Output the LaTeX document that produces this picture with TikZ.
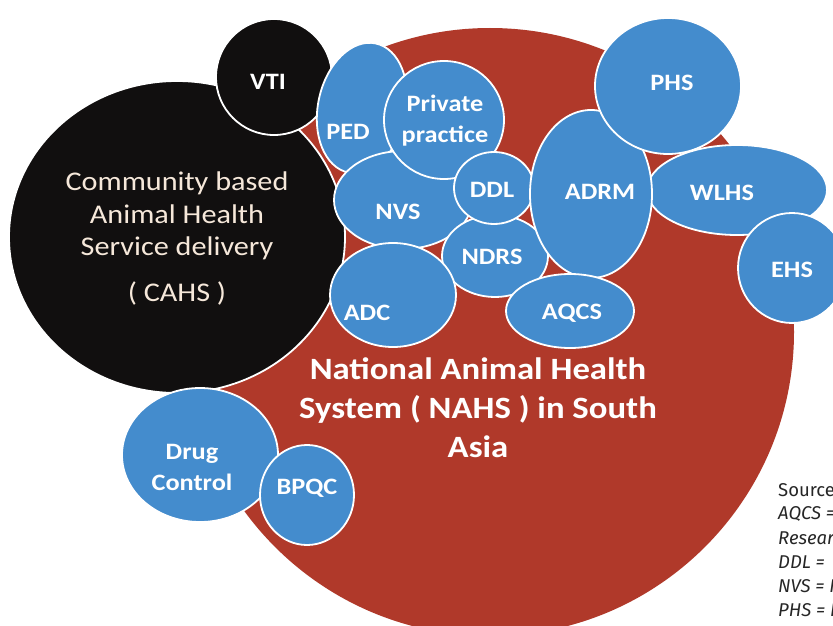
\documentclass[tikz,border=0pt]{standalone}
\usepackage{fontspec}
\setmainfont{Carlito}[FakeStretch=1.12]
\newfontfamily\srcfont{Fira Sans}
\usetikzlibrary{shapes.geometric}
\definecolor{nahsred}{RGB}{176,57,42}
\definecolor{bblue}{RGB}{68,140,205}
\definecolor{cahsblack}{RGB}{17,15,15}
\definecolor{cream}{RGB}{246,232,218}
\begin{document}
\begin{tikzpicture}[x=1pt,y=-1pt,
  bubble/.style={fill=bblue, draw=white, line width=1.8pt},
  darkbub/.style={fill=cahsblack, draw=white, line width=1.8pt},
  lbl/.style={text=white, font=\fontsize{23.5}{31}\selectfont\bfseries, align=center, inner sep=0pt},
  cahstext/.style={text=cream, font=\fontsize{27}{32.5}\selectfont, align=center, inner sep=0pt},
  nahstext/.style={text=white, font=\fontsize{31}{39}\selectfont\bfseries, align=center, inner sep=0pt},
  srctext/.style={text=black!85, font=\srcfont\fontsize{18.5}{21}\selectfont, anchor=west, inner sep=0pt},
  srcital/.style={srctext, font=\srcfont\itshape\fontsize{18.5}{21}\selectfont}]
\useasboundingbox (0,0) rectangle (833,626);
\clip (0,0) rectangle (833,626);
\fill[white] (0,0) rectangle (833,626);
% national system
\fill[nahsred] (490,332) circle [radius=304];
% community based
\path[darkbub] (177,237) ellipse [x radius=168, y radius=156];
\path[darkbub] (274,77) circle [radius=58];
% blue bubbles
\path[bubble, rotate around={-12:(362,108)}] (362,108) ellipse [x radius=44, y radius=66];
\path[bubble] (403,200) ellipse [x radius=69, y radius=49];
\path[bubble] (444,120) ellipse [x radius=60, y radius=59];
\path[bubble] (495,256) ellipse [x radius=53, y radius=41];
\path[bubble] (494,188) ellipse [x radius=40, y radius=36];
\path[bubble] (393,295) ellipse [x radius=63, y radius=52];
\path[bubble] (737,190) ellipse [x radius=90, y radius=45];
\path[bubble] (591,194) ellipse [x radius=61, y radius=84];
\path[bubble] (570,311) ellipse [x radius=64, y radius=37];
\path[bubble] (668,86) ellipse [x radius=73, y radius=68];
\path[bubble] (792,268) ellipse [x radius=54, y radius=55];
\path[bubble] (200,455) ellipse [x radius=78, y radius=67];
\path[bubble] (307,495) ellipse [x radius=47, y radius=50];
% labels
\node[lbl] (vti) at (268,82) {VTI};
\node[cahstext] (cahs) at (177,216) {Community based\\Animal Health\\Service delivery};
\node[cahstext] (cahsabbr) at (177,293) {( CAHS )};
\node[lbl] (ped) at (348,132) {PED};
\node[lbl] (pp) at (445,121) {Private\\practice};
\node[lbl] (ddl) at (492,190) {DDL};
\node[lbl] (nvs) at (398,212) {NVS};
\node[lbl] (ndrs) at (492,257) {NDRS};
\node[lbl] (adc) at (367,313) {ADC};
\node[lbl] (aqcs) at (572,313) {AQCS};
\node[lbl] (adrm) at (600,192) {ADRM};
\node[lbl] (phs) at (672,83) {PHS};
\node[lbl] (wlhs) at (722,193) {WLHS};
\node[lbl] (ehs) at (792,270) {EHS};
\node[lbl] (drug) at (192,467) {Drug\\Control};
\node[lbl] (bpqc) at (307,488) {BPQC};
\node[nahstext] (nahs) at (478,408) {National Animal Health\\System ( NAHS ) in South\\Asia};
% source notes
\node[srctext] (s1) at (778,490) {Source};
\node[srcital] (s2) at (778,514) {AQCS =};
\node[srcital] (s3) at (778,538) {Resear};
\node[srcital] (s4) at (778,562) {DDL =};
\node[srcital] (s5) at (778,586) {NVS = I};
\node[srcital] (s6) at (778,610) {PHS = I};
\end{tikzpicture}
\end{document}
